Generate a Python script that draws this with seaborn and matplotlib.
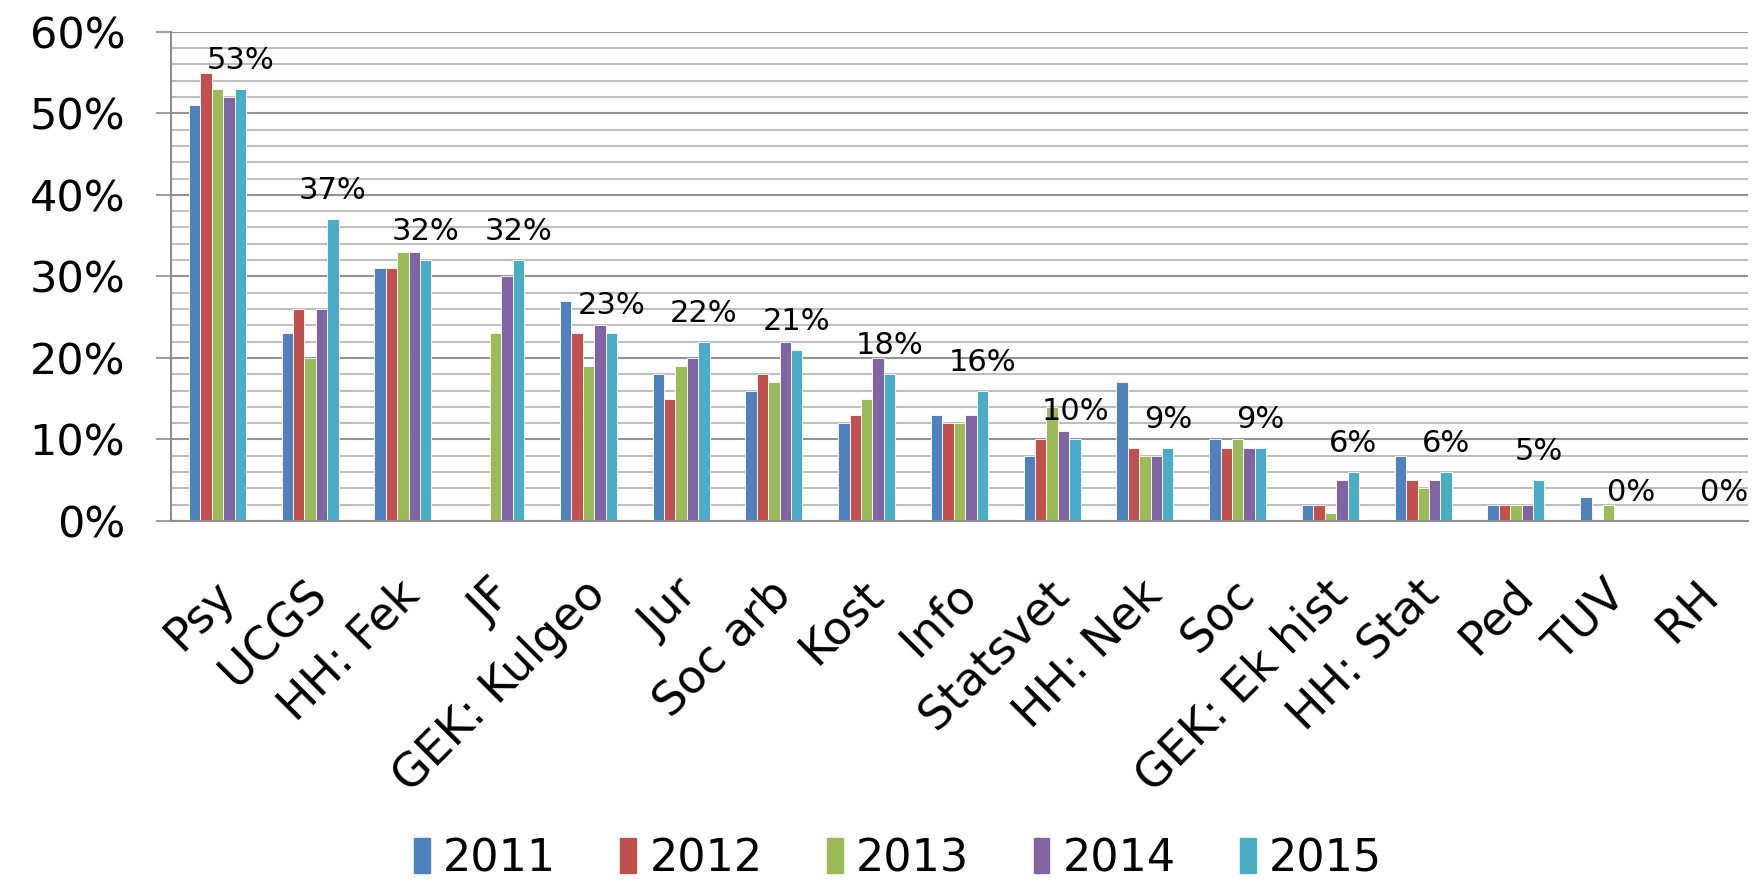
import pandas as pd
import matplotlib
matplotlib.use("Agg")
import matplotlib.pyplot as plt
import matplotlib.transforms as mtransforms
import seaborn as sns
from matplotlib.ticker import MultipleLocator, PercentFormatter

# -------------------------------
# Data (share in percent)
# -------------------------------
programs = ['Psy', 'UCGS', 'HH: Fek', 'JF', 'GEK: Kulgeo', 'Jur', 'Soc arb', 'Kost',
            'Info', 'Statsvet', 'HH: Nek', 'Soc', 'GEK: Ek hist', 'HH: Stat', 'Ped', 'TUV', 'RH']
years = ['2011', '2012', '2013', '2014', '2015']

v2011 = [51, 23, 31, 0, 27, 18, 16, 12, 13, 8, 17, 10, 2, 8, 2, 3, 0]
v2012 = [55, 26, 31, 0, 23, 15, 18, 13, 12, 10, 9, 9, 2, 5, 2, 0, 0]
v2013 = [53, 20, 33, 23, 19, 19, 17, 15, 12, 14, 8, 10, 1, 4, 2, 2, 0]
v2014 = [52, 26, 33, 30, 24, 20, 22, 20, 13, 11, 8, 9, 5, 5, 2, 0, 0]
v2015 = [53, 37, 32, 32, 23, 22, 21, 18, 16, 10, 9, 9, 6, 6, 5, 0, 0]

colors = ['#4F81BD', '#C0504D', '#9BBB59', '#8064A2', '#4BACC6']

rows = []
for year, vals in zip(years, [v2011, v2012, v2013, v2014, v2015]):
    for prog, v in zip(programs, vals):
        rows.append({'Program': prog, 'Year': year, 'Share': v})
df = pd.DataFrame(rows)

# -------------------------------
# Plot
# -------------------------------
sns.set_style('white')
plt.rcParams['font.family'] = ['DejaVu Sans']
plt.rcParams['text.color'] = 'black'
plt.rcParams['xtick.color'] = 'black'
plt.rcParams['ytick.color'] = 'black'

fig = plt.figure(figsize=(17.54, 8.83), dpi=100)
ax = fig.add_axes([0.0975, 0.410, 0.899, 0.554])

sns.barplot(data=df, x='Program', y='Share', hue='Year', order=programs, hue_order=years,
            palette=colors, saturation=1, width=0.615, edgecolor='white', linewidth=0.6,
            ax=ax)

# label only the 2015 series
ax.bar_label(ax.containers[-1], labels=[f'{v}%' for v in v2015], padding=10,
             fontsize=22, color='black')

ax.set_ylim(0, 60)
ax.set_xlim(-0.5, len(programs) - 0.5)
ax.yaxis.set_major_locator(MultipleLocator(10))
ax.yaxis.set_minor_locator(MultipleLocator(2))
ax.yaxis.set_major_formatter(PercentFormatter(100, decimals=0))
ax.grid(axis='y', which='major', color='#939393', linewidth=1.5)
ax.grid(axis='y', which='minor', color='#bdbdbd', linewidth=1.5)
ax.set_axisbelow(True)

for s in ['top', 'right']:
    ax.spines[s].set_visible(False)
for s in ['left', 'bottom']:
    ax.spines[s].set_color('#8c8c8c')
    ax.spines[s].set_linewidth(1.5)

ax.tick_params(axis='y', which='major', direction='out', length=11, width=1.2,
               color='#8c8c8c', labelcolor='black', labelsize=31, pad=22, left=True)
ax.tick_params(axis='y', which='minor', length=0)
ax.tick_params(axis='x', length=0, labelsize=33, pad=18, labelcolor='black')

# rotated category labels, nudged a bit down/left
shift = mtransforms.ScaledTranslation(-6 / 100, -26 / 100, fig.dpi_scale_trans)
for lab in ax.get_xticklabels():
    lab.set_rotation(45)
    lab.set_ha('right')
    lab.set_rotation_mode('anchor')
    lab.set_transform(lab.get_transform() + shift)

ax.set_xlabel('')
ax.set_ylabel('')

ax.legend_.remove()
handles = [plt.Rectangle((0, 0), 1, 1, color=c) for c in colors]
fig.legend(handles, years, loc='lower center', bbox_to_anchor=(0.512, -0.042), ncol=5,
           frameon=False, fontsize=32, handlelength=0.35, handleheight=0.85,
           handletextpad=0.3, columnspacing=1.45)

plt.savefig('out.png', dpi=100)
